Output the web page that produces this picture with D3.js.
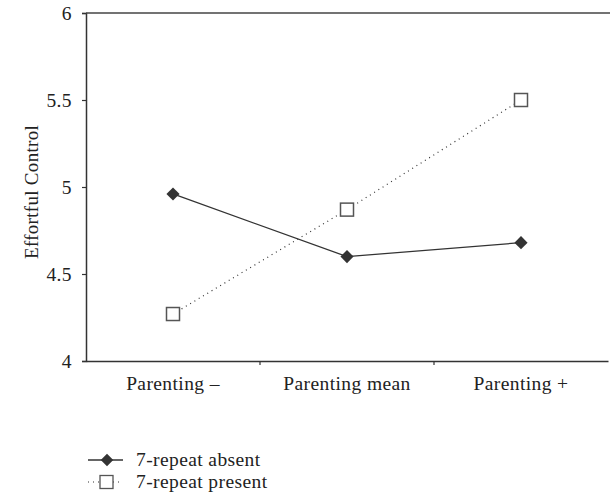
<!DOCTYPE html>
<html><head><meta charset="utf-8">
<script src="https://cdn.jsdelivr.net/npm/d3@7"></script>
<style>body{margin:0;background:#fff}svg{display:block}text{font-family:"Liberation Serif","Times New Roman",serif;fill:#222}</style>
</head><body><svg id="c" width="610" height="496"></svg>
<script>
const categories = ["Parenting \u2013", "Parenting mean", "Parenting +"];
const absentValues = [4.96, 4.60, 4.68];
const presentValues = [4.27, 4.87, 5.50];
const yTicks = [4, 4.5, 5, 5.5, 6];
const seriesNames = ["7-repeat absent", "7-repeat present"];

const svg = d3.select("#c");
const mLeft = 86, mRight = 608, mTop = 13, mBottom = 361;
const FS = 19.5, LS = "0.4px";
const x = d3.scaleBand().domain(categories).range([mLeft, mRight]).padding(0);
const y = d3.scaleLinear().domain([4, 6]).range([mBottom, mTop]);
const col = "#333";

// y axis
const ya = svg.append("g").attr("transform", `translate(${mLeft},0)`)
  .call(d3.axisLeft(y).tickValues(yTicks).tickFormat(d3.format("")).tickSize(4).tickPadding(10));
ya.select(".domain").attr("stroke", col).attr("stroke-width", 1.5);
ya.selectAll(".tick line").attr("stroke", col).attr("stroke-width", 1.2);
ya.selectAll(".tick text").attr("font-size", FS).attr("letter-spacing", LS).attr("font-family", "Liberation Serif").attr("fill", "#222");

// x axis
const xa = svg.append("g").attr("transform", `translate(0,${mBottom})`)
  .call(d3.axisBottom(x).tickSize(0).tickPadding(15));
xa.select(".domain").attr("stroke", col).attr("stroke-width", 1.5);
xa.selectAll(".tick text").attr("font-size", FS).attr("letter-spacing", LS).attr("font-family", "Liberation Serif").attr("fill", "#222");
xa.selectAll(".sep").data(categories.slice(1)).enter().append("line")
  .attr("x1", d => x(d)).attr("x2", d => x(d)).attr("y1", 0).attr("y2", 4)
  .attr("stroke", col).attr("stroke-width", 1.2);

// top border line
svg.append("line").attr("x1", mLeft).attr("x2", 610).attr("y1", mTop).attr("y2", mTop)
  .attr("stroke", "#444").attr("stroke-width", 1.5);

// y label
svg.append("text").attr("transform", `translate(38,192) rotate(-90)`)
  .attr("text-anchor", "middle").attr("font-size", 19).attr("letter-spacing", "0.3px").text("Effortful Control");

const cx = d => x(d) + x.bandwidth() / 2;
const line = d3.line().x(d => cx(d[0])).y(d => y(d[1]));
const absent = categories.map((c, i) => [c, absentValues[i]]);
const present = categories.map((c, i) => [c, presentValues[i]]);

svg.append("path").datum(present).attr("d", line).attr("fill", "none")
  .attr("stroke", "#333").attr("stroke-width", 1.2).attr("stroke-dasharray", "1,4");
svg.append("path").datum(absent).attr("d", line).attr("fill", "none")
  .attr("stroke", "#333").attr("stroke-width", 1.3);

const diamond = d3.symbol().type(d3.symbolDiamond2).size(110);
svg.selectAll(".dm").data(absent).enter().append("path")
  .attr("d", diamond).attr("transform", d => `translate(${cx(d[0])},${y(d[1])})`)
  .attr("fill", "#333");
svg.selectAll(".sq").data(present).enter().append("rect")
  .attr("x", d => cx(d[0]) - 6.5).attr("y", d => y(d[1]) - 6.5)
  .attr("width", 13).attr("height", 13).attr("fill", "#fff")
  .attr("stroke", "#555").attr("stroke-width", 1.5);

// legend
const ly = [460, 482];
const lg = svg.append("g");
lg.append("line").attr("x1", 88).attr("x2", 123).attr("y1", ly[0]).attr("y2", ly[0]).attr("stroke", "#333").attr("stroke-width", 1.3);
lg.append("path").attr("d", d3.symbol().type(d3.symbolDiamond2).size(100)).attr("transform", `translate(107,${ly[0]})`).attr("fill", "#333");
lg.append("line").attr("x1", 88).attr("x2", 123).attr("y1", ly[1]).attr("y2", ly[1]).attr("stroke", "#333").attr("stroke-width", 1.2).attr("stroke-dasharray", "1,4");
lg.append("rect").attr("x", 100).attr("y", ly[1] - 6.5).attr("width", 13).attr("height", 13).attr("fill", "#fff").attr("stroke", "#555").attr("stroke-width", 1.3);
lg.selectAll("text").data(seriesNames).enter().append("text")
  .attr("x", 136).attr("y", (d, i) => ly[i] + 6).attr("font-size", FS).attr("letter-spacing", LS).text(d => d);
</script></body></html>
